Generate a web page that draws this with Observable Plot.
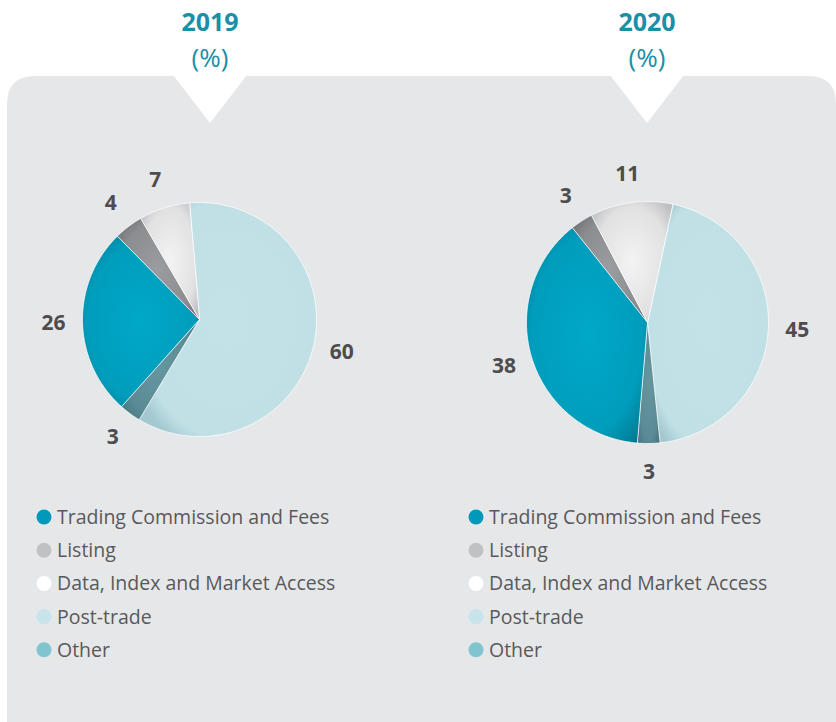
<!DOCTYPE html>
<html><head><meta charset="utf-8">
<script src="https://cdn.jsdelivr.net/npm/d3@7"></script>
<script src="https://cdn.jsdelivr.net/npm/@observablehq/plot@0.6"></script>
<style>
body{margin:0;background:#fff;width:836px;height:722px;overflow:hidden;position:relative;font-family:"Open Sans",sans-serif;}
#bg{position:absolute;left:0;top:0;}
.pie{position:absolute;}
</style></head>
<body>
<svg id="defs" width="0" height="0" style="position:absolute">
<defs>
<radialGradient id="g0" cx="50%" cy="50%" r="65%"><stop offset="0" stop-color="#00a8c8"/><stop offset="0.7" stop-color="#009dbc"/><stop offset="1" stop-color="#00788f"/></radialGradient>
<radialGradient id="g1" cx="50%" cy="50%" r="65%"><stop offset="0" stop-color="#9a9c9f"/><stop offset="0.7" stop-color="#8b8d90"/><stop offset="1" stop-color="#6f7174"/></radialGradient>
<radialGradient id="g2" cx="50%" cy="50%" r="65%"><stop offset="0" stop-color="#f3f3f3"/><stop offset="0.7" stop-color="#e1e1e2"/><stop offset="1" stop-color="#bcbdbf"/></radialGradient>
<radialGradient id="g3" cx="50%" cy="50%" r="60%"><stop offset="0" stop-color="#c3e2e8"/><stop offset="0.85" stop-color="#c0e0e6"/><stop offset="1" stop-color="#a3c8d0"/></radialGradient>
<radialGradient id="g4" cx="50%" cy="50%" r="65%"><stop offset="0" stop-color="#65959f"/><stop offset="0.7" stop-color="#5b8c96"/><stop offset="1" stop-color="#4a7781"/></radialGradient>
</defs></svg>
<svg id="bg" width="836" height="722"></svg>
<div id="p2019" class="pie"></div>
<div id="p2020" class="pie"></div>
<script>
const categories = ["Trading Commission and Fees", "Listing", "Data, Index and Market Access", "Post-trade", "Other"];
const values2019 = [26, 4, 7, 60, 3];
const values2020 = [38, 3, 11, 45, 3];
const years = ["2019", "2020"];
const unitLabel = "(%)";
const legendColors = ["#0099bb", "#c0c1c3", "#ffffff", "#c6e4ea", "#80c4d0"];

const FONT = "'Open Sans', sans-serif";
const NS = "http://www.w3.org/2000/svg";
const bg = document.getElementById("bg");
function el(tag, attrs, text) {
  const e = document.createElementNS(NS, tag);
  for (const k in attrs) e.setAttribute(k, attrs[k]);
  if (text != null) e.textContent = text;
  bg.appendChild(e);
  return e;
}
// panel with rounded top corners
el("path", {d: "M7,722 L7,104 Q7,76 35,76 L808,76 Q836,76 836,104 L836,722 Z", fill: "#e6e7e9"});

const layout = [
  {year: years[0], values: values2019, cx: 199, cy: 319, r: 117, start: -5, notch: 210, legendX: 44},
  {year: years[1], values: values2020, cx: 647, cy: 322, r: 121, start: 12, notch: 647, legendX: 476}
];

for (const L of layout) {
  el("path", {d: `M${L.notch-37},75 L${L.notch+37},75 L${L.notch},123 Z`, fill: "#fff"});
  el("text", {x: L.notch, y: 31, "text-anchor": "middle", "font-family": FONT, "font-weight": "bold", "font-size": 25, fill: "#1a8fa8"}, L.year);
  el("text", {x: L.notch, y: 67, "text-anchor": "middle", "font-family": FONT, "font-size": 26, fill: "#1a8fa8"}, unitLabel);
  categories.forEach((c, i) => {
    const cy = 517 + i * 33.2;
    el("circle", {cx: L.legendX, cy: cy, r: 7.5, fill: legendColors[i]});
    el("text", {x: L.legendX + 13, y: cy + 7, "font-family": FONT, "font-size": 19.5, fill: "#58595b"}, c);
  });
}

function pieChart(values, startDeg, r) {
  const order = [3, 4, 0, 1, 2]; // clockwise: Post-trade, Other, Trading, Listing, Data
  const total = d3.sum(values);
  const polys = [], labels = [];
  let a = startDeg;
  const labelR = r + 29;
  for (const i of order) {
    const span = values[i] / total * 360;
    const n = Math.max(2, Math.ceil(span));
    polys.push({k: i, x: 0, y: 0});
    for (let j = 0; j <= n; j++) {
      const t = (a + span * j / n) * Math.PI / 180;
      polys.push({k: i, x: r * Math.sin(t), y: r * Math.cos(t)});
    }
    const m = (a + span / 2) * Math.PI / 180;
    labels.push({x: labelR * Math.sin(m), y: labelR * Math.cos(m), text: String(values[i])});
    a += span;
  }
  return Plot.plot({
    width: 360, height: 340, margin: 0,
    x: {domain: [-180, 180], axis: null},
    y: {domain: [-170, 170], axis: null},
    color: {type: "identity"},
    style: {background: "transparent", overflow: "visible"},
    marks: [
      Plot.line(polys, {x: "x", y: "y", z: "k", fill: d => `url(#g${d.k})`, stroke: "#ffffff", strokeWidth: 0.8, strokeOpacity: 0.9, curve: "linear-closed"}),
      Plot.text(labels, {x: "x", y: "y", text: "text", fontSize: 21, fontWeight: "bold", fill: "#4d4d4f", fontFamily: FONT})
    ]
  });
}

for (const L of layout) {
  const div = document.getElementById("p" + L.year);
  div.style.left = (L.cx - 180) + "px";
  div.style.top = (L.cy - 170) + "px";
  div.appendChild(pieChart(L.values, L.start, L.r));
}
</script>
</body></html>
